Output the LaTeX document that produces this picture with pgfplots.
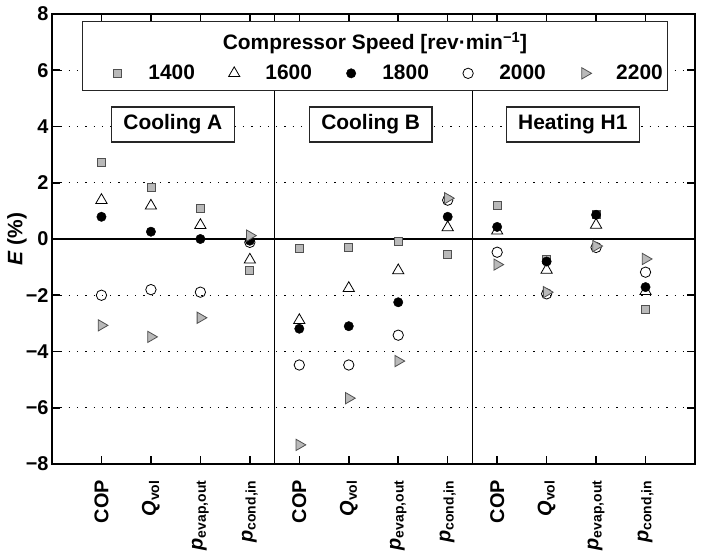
\documentclass[border=0pt]{standalone}
\usepackage{fontspec}
\setmainfont{Liberation Sans}
\usepackage{pgfplots}
\usepackage{pgfplotstable}
\pgfplotsset{compat=1.18}

\definecolor{mkgray}{RGB}{185,185,185}
\definecolor{mkedge}{RGB}{80,80,80}

\pgfplotstableread{
x y
1 2.74
2 1.83
3 1.08
4 -1.12
5 -0.33
6 -0.31
7 -0.08
8 -0.53
9 1.20
10 -0.74
11 0.88
12 -2.51
}\sA
\pgfplotstableread{
x y
1 1.38
2 1.18
3 0.49
4 -0.74
5 -2.89
6 -1.75
7 -1.12
8 0.41
9 0.29
10 -1.10
11 0.50
12 -1.86
}\sB
\pgfplotstableread{
x y
1 0.79
2 0.26
3 0.00
4 -0.06
5 -3.19
6 -3.10
7 -2.25
8 0.79
9 0.43
10 -0.80
11 0.86
12 -1.71
}\sC
\pgfplotstableread{
x y
1 -2.00
2 -1.80
3 -1.89
4 -0.12
5 -4.48
6 -4.48
7 -3.42
8 1.38
9 -0.47
10 -1.95
11 -0.30
12 -1.18
}\sD
\pgfplotstableread{
x y
1 -3.07
2 -3.48
3 -2.80
4 0.12
5 -7.32
6 -5.66
7 -4.34
8 1.45
9 -0.91
10 -1.89
11 -0.25
12 -0.71
}\sE

\begin{document}
\begin{tikzpicture}
\begin{axis}[
  name=ax,
  scale only axis,
  width=643bp, height=450bp,
  xmin=0, xmax=13, ymin=-8, ymax=8,
  axis line style={line width=2.6bp},
  xtick={1,...,12},
  xticklabels={COP, {{\itshape Q}\textsubscript{vol}}, {{\itshape p}\textsubscript{evap,out}}, {{\itshape p}\textsubscript{cond,in}},
               COP, {{\itshape Q}\textsubscript{vol}}, {{\itshape p}\textsubscript{evap,out}}, {{\itshape p}\textsubscript{cond,in}},
               COP, {{\itshape Q}\textsubscript{vol}}, {{\itshape p}\textsubscript{evap,out}}, {{\itshape p}\textsubscript{cond,in}}},
  ytick={-8,-6,...,8},
  yticklabels={−8,−6,−4,−2,0,2,4,6,8},
  tick align=inside,
  major tick length=8bp,
  every tick/.style={black, line width=1.6bp},
  ymajorgrids,
  major grid style={black, line width=1.3bp, dash pattern=on 1.3bp off 7bp},
  tick label style={font=\fontsize{20}{24}\selectfont\bfseries},
  xticklabel style={yshift=-16bp, rotate=90, anchor=east, inner sep=0pt},
  ylabel={{\itshape E} (\%)},
  every axis y label/.style={at={(axis description cs:-0.0545,0.5)}, rotate=90, anchor=center, font=\fontsize{21}{25}\selectfont\bfseries},
  legend columns=5,
  legend style={at={(axis cs:1.15,5.89)}, anchor=west, draw=none, fill=none, inner sep=0pt,
    font=\fontsize{21}{25}\selectfont\bfseries,
    nodes={inner sep=0pt},
    /tikz/every odd column/.append style={column sep=23bp},
    /tikz/every even column/.append style={column sep=31bp}},
  legend image code/.code={\draw[#1] plot coordinates {(0bp,0bp)}; \path (-8bp,-8bp) (8bp,8bp);},
]
\draw[line width=2.6bp] (axis cs:0,0) -- (axis cs:13,0);
\draw[line width=1.1bp] (axis cs:4.5,-8) -- (axis cs:4.5,8);
\draw[line width=1.1bp] (axis cs:8.5,-8) -- (axis cs:8.5,8);
\draw[fill=white, line width=1.1bp, draw=black!85] (axis cs:0.61,5.27) rectangle (axis cs:12.44,7.72);
\node[font=\fontsize{21}{25}\selectfont\bfseries] at (axis cs:6.53,6.97) {Compressor Speed [rev·min\textsuperscript{−1}]};
\node[draw=black!85, fill=white, line width=1.2bp, anchor=west, inner xsep=12bp, minimum height=35bp, font=\fontsize{21}{25}\selectfont\bfseries] at (axis cs:1.19,4.07) {Cooling A};
\node[draw=black!85, fill=white, line width=1.2bp, anchor=west, inner xsep=12bp, minimum height=35bp, font=\fontsize{21}{25}\selectfont\bfseries] at (axis cs:5.19,4.07) {Cooling B};
\node[draw=black!85, fill=white, line width=1.2bp, anchor=west, inner xsep=12bp, minimum height=35bp, font=\fontsize{21}{25}\selectfont\bfseries] at (axis cs:9.17,4.07) {Heating H1};

\addplot[only marks, mark=square*, mark size=4bp, mark options={fill=mkgray, draw=mkedge, line width=0.8bp}] table[x=x,y=y] {\sA};
\addlegendentry{1400}
\addplot[only marks, mark=triangle, mark size=6.5bp, mark options={draw=black, line width=0.8bp}] table[x=x,y=y] {\sB};
\addlegendentry{1600}
\addplot[only marks, mark=*, mark size=4.7bp, mark options={fill=black, draw=black}] table[x=x,y=y] {\sC};
\addlegendentry{1800}
\addplot[only marks, mark=o, mark size=5.2bp, mark options={draw=black, line width=0.8bp}] table[x=x,y=y] {\sD};
\addlegendentry{2000}
\addplot[only marks, mark=triangle*, mark size=6.5bp, mark options={rotate=-90, fill=mkgray, draw=mkedge, line width=0.8bp}] table[x=x,y=y] {\sE};
\addlegendentry{2200}
\end{axis}
\pgfresetboundingbox
\useasboundingbox ([xshift=-52bp,yshift=-89bp]ax.south west) rectangle ([xshift=8bp,yshift=14bp]ax.north east);
\end{tikzpicture}
\end{document}
